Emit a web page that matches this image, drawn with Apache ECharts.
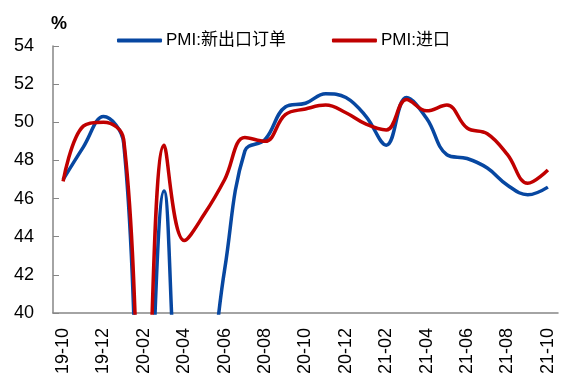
<!DOCTYPE html>
<html>
<head>
<meta charset="utf-8">
<script src="https://cdn.jsdelivr.net/npm/echarts@6/dist/echarts.min.js"></script>
<style>
html,body{margin:0;padding:0;background:#fff;}
#c{width:564px;height:380px;}
</style>
</head>
<body>
<div id="c"></div>
<script>
const categories = ['19-10','19-11','19-12','20-01','20-02','20-03','20-04','20-05','20-06','20-07','20-08','20-09','20-10','20-11','20-12','21-01','21-02','21-03','21-04','21-05','21-06','21-07','21-08','21-09','21-10'];
const exportOrders = [47.0,48.7,50.3,48.9,28.7,46.4,33.5,35.3,42.3,48.5,49.1,50.8,51.0,51.5,51.3,50.3,48.8,51.3,50.2,48.3,48.1,47.6,46.7,46.2,46.6];
const imports = [46.9,49.8,50.0,49.1,31.9,48.8,43.8,45.2,47.0,49.2,49.0,50.4,50.7,50.9,50.5,49.9,49.6,51.2,50.6,50.9,49.7,49.4,48.3,46.8,47.5];
const seriesNames = ['PMI:新出口订单','PMI:进口'];
const yTicks = {min:40, max:54, interval:2};

const chart = echarts.init(document.getElementById('c'), null, {renderer:'canvas'});
const axisColor = '#868686';
const font = '"Liberation Sans", Arial, sans-serif';
chart.setOption({
  animation:false,
  backgroundColor:'#fff',
  title:{
    text:'%', left:46, top:10,
    textStyle:{fontFamily:font, fontSize:18, fontWeight:'bold', color:'#000'}
  },
  legend:{
    top:27, left:112,
    itemWidth:45, itemHeight:4, itemGap:46,
    icon:'roundRect',
    textStyle:{fontFamily:'"Liberation Sans", "Noto Sans CJK SC", sans-serif', fontSize:17, color:'#000', padding:[0,0,0,-1]},
    data:seriesNames
  },
  grid:{left:53, right:6, top:46, bottom:67},
  xAxis:{
    type:'category',
    data:categories,
    boundaryGap:true,
    axisLine:{lineStyle:{color:axisColor, width:1.5}},
    axisTick:{inside:true, length:6, interval:1, lineStyle:{color:axisColor, width:1}},
    axisLabel:{interval:1, rotate:90, margin:15, fontFamily:font, fontSize:18, color:'#000'}
  },
  yAxis:{
    type:'value',
    min:yTicks.min, max:yTicks.max, interval:yTicks.interval,
    splitLine:{show:false},
    axisLine:{show:true, lineStyle:{color:axisColor, width:1.5}},
    axisTick:{show:true, inside:true, length:6, lineStyle:{color:axisColor, width:1}},
    axisLabel:{margin:19, fontFamily:font, fontSize:18, color:'#000'}
  },
  series:[
    {name:seriesNames[0], type:'line', data:exportOrders, smooth:0.4, symbol:'none', clip:true,
     lineStyle:{color:'#0747a1', width:3.5}, itemStyle:{color:'#0747a1'}},
    {name:seriesNames[1], type:'line', data:imports, smooth:0.4, symbol:'none', clip:true,
     lineStyle:{color:'#c00000', width:3.5}, itemStyle:{color:'#c00000'}}
  ]
});
</script>
</body>
</html>
